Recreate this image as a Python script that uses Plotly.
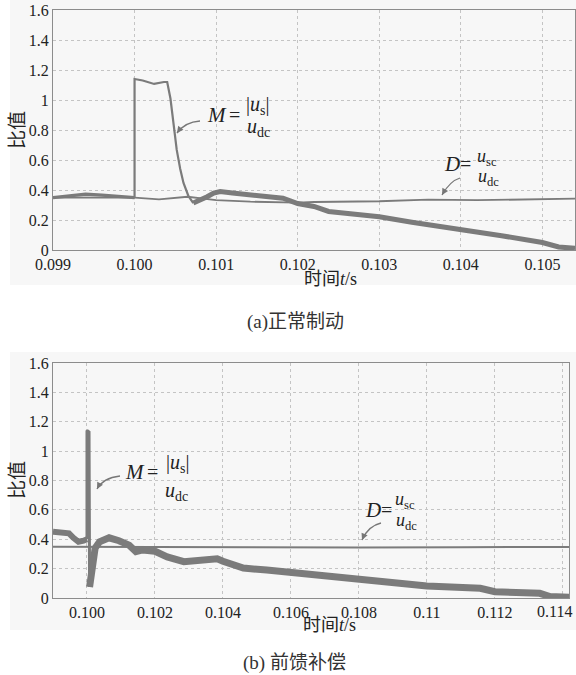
import plotly.graph_objects as go

# ---------------- data: (a) normal braking ----------------
tA_D = [0.0990, 0.0995, 0.1000, 0.1003, 0.10065, 0.1010, 0.10142, 0.1020, 0.1022, 0.1030, 0.1036, 0.1042, 0.1054]
DA = [0.350, 0.352, 0.349, 0.338, 0.355, 0.333, 0.322, 0.316, 0.320, 0.325, 0.336, 0.332, 0.342]

tA_pre = [0.0990, 0.0992, 0.0994, 0.0996, 0.0998, 0.1000]
MA_pre = [0.349, 0.362, 0.372, 0.366, 0.356, 0.349]

tA_jump = [0.1000, 0.1000, 0.1001, 0.10024, 0.10036, 0.10040, 0.10044, 0.10048, 0.100517, 0.10056, 0.10060, 0.10066, 0.10072]
MA_jump = [0.349, 1.14, 1.13, 1.107, 1.12, 1.12, 1.01, 0.82, 0.667, 0.54, 0.447, 0.36, 0.313]

tA_post = [0.10072, 0.10080, 0.10089, 0.10097, 0.10105, 0.10120, 0.10142, 0.10160, 0.10182, 0.1020,
           0.1022, 0.10238, 0.1026, 0.1028, 0.1030, 0.1034, 0.1036, 0.1038, 0.1040, 0.1045, 0.1050,
           0.1052, 0.1054]
MA_post = [0.313, 0.33, 0.355, 0.38, 0.39, 0.38, 0.367, 0.357, 0.345, 0.31,
           0.29, 0.257, 0.245, 0.235, 0.222, 0.185, 0.17, 0.15, 0.133, 0.095, 0.05,
           0.02, 0.011]

# ---------------- data: (b) feed-forward compensation ----------------
tB_D = [0.0990, 0.1020, 0.1050, 0.1080, 0.1110, 0.11418]
DB = [0.349, 0.346, 0.344, 0.344, 0.346, 0.347]

tB_pre = [0.0990, 0.0993, 0.09947, 0.0996, 0.09975, 0.0999, 0.1000]
MB_pre = [0.451, 0.445, 0.44, 0.41, 0.383, 0.39, 0.40]

tB_spike = [0.1000, 0.1000, 0.10006, 0.10007, 0.100076]
MB_spike = [0.40, 1.14, 1.13, 0.50, 0.075]

tB_post = [0.100076, 0.10015, 0.10024, 0.10037, 0.10065, 0.10094, 0.10124, 0.10144, 0.10164, 0.1020,
           0.10236, 0.10285, 0.10334, 0.10383, 0.1040, 0.1046, 0.10529, 0.1060, 0.10666, 0.1080,
           0.10863, 0.1100, 0.11157, 0.1120, 0.11332, 0.11362, 0.11418]
MB_post = [0.075, 0.213, 0.34, 0.383, 0.41, 0.39, 0.36, 0.315, 0.327, 0.318,
           0.28, 0.247, 0.26, 0.267, 0.25, 0.204, 0.19, 0.175, 0.158, 0.127,
           0.113, 0.082, 0.066, 0.043, 0.032, 0.01, 0.005]

# ---------------- ticks ----------------
yticks = [0, 0.2, 0.4, 0.6, 0.8, 1.0, 1.2, 1.4, 1.6]
yticktext = ["0", "0.2", "0.4", "0.6", "0.8", "1", "1.2", "1.4", "1.6"]
xA_ticks = [0.099, 0.100, 0.101, 0.102, 0.103, 0.104, 0.105]
xA_text = ["0.099", "0.100", "0.101", "0.102", "0.103", "0.104", "0.105"]
xB_ticks = [0.100, 0.102, 0.104, 0.106, 0.108, 0.110, 0.112, 0.114]
xB_text = ["0.100", "0.102", "0.104", "0.106", "0.108", "0.11", "0.112", "0.114"]

W, H = 576, 675
LINE = "#7b7b7b"
SERIF = "Liberation Serif, Times New Roman, DejaVu Serif, serif"
CJK = "Liberation Serif, Times New Roman, Noto Sans CJK SC, serif"


def P(px, py):
    """window pixel -> paper fraction"""
    return px / W, 1 - py / H


def dom_x(a, b):
    return [a / W, min(1.0, b / W)]


def dom_y(top, bottom):
    return [1 - bottom / H, 1 - top / H]


fig = go.Figure()


def add(t, v, xa, ya, w):
    fig.add_trace(go.Scatter(x=t, y=v, mode="lines", xaxis=xa, yaxis=ya,
                             line=dict(color=LINE, width=w), showlegend=False,
                             hoverinfo="skip"))


# (a)
add(tA_D, DA, "x", "y", 1.8)
add(tA_pre, MA_pre, "x", "y", 3.2)
add(tA_jump, MA_jump, "x", "y", 2.2)
add(tA_post, MA_post, "x", "y", 5)
# (b)
add(tB_D, DB, "x2", "y2", 2)
add(tB_pre, MB_pre, "x2", "y2", 6)
add(tB_spike, MB_spike, "x2", "y2", 3)
add(tB_post, MB_post, "x2", "y2", 7)

TICKFONT = dict(family=SERIF, size=16, color="#222")
axis_common = dict(showline=True, mirror=True, linecolor="#8c8c8c", linewidth=1,
                   showgrid=True, gridcolor="#c4c4c4", griddash="dot", gridwidth=1,
                   zeroline=False, ticks="", tickfont=TICKFONT)

# the last label of (b) sits at the window edge; it is drawn right-aligned separately
xB_label = xB_text[:-1] + [""]

fig.update_layout(
    width=W, height=H, template="none",
    margin=dict(l=0, r=0, t=0, b=0),
    paper_bgcolor="white", plot_bgcolor="white",
    xaxis=dict(domain=dom_x(53, 575), range=[0.099, 0.1054], tickvals=xA_ticks,
               ticktext=xA_text, anchor="y", **axis_common),
    yaxis=dict(domain=dom_y(10, 250), range=[0, 1.6], tickvals=yticks,
               ticktext=yticktext, anchor="x", **axis_common),
    xaxis2=dict(domain=dom_x(53, 569), range=[0.099, 0.11418], tickvals=xB_ticks,
                ticktext=xB_label, anchor="y2", **axis_common),
    yaxis2=dict(domain=dom_y(363, 598), range=[0, 1.6], tickvals=yticks,
                ticktext=yticktext, anchor="x2", **axis_common),
)

shapes = []
# light panel backgrounds
for (y0, y1) in [(0, 285), (352, 630)]:
    x0p, y0p = P(10, y1)
    x1p, y1p = P(576, y0)
    shapes.append(dict(type="rect", xref="paper", yref="paper", layer="below",
                       x0=x0p, x1=min(1.0, x1p), y0=y0p, y1=y1p,
                       fillcolor="#f7f7f7", line=dict(width=0)))

annotations = []


def txt(px, py, s, size=20, fam=SERIF, color="#222", angle=0, xanchor="center"):
    x, y = P(px, py)
    annotations.append(dict(x=x, y=y, xref="paper", yref="paper", text=s, showarrow=False,
                            font=dict(family=fam, size=size, color=color), textangle=angle,
                            xanchor=xanchor, yanchor="middle"))


def curved_arrow(start, ctrl, tip):
    sx, sy = P(*start)
    cx, cy = P(*ctrl)
    tx, ty = P(*tip)
    shapes.append(dict(type="path", xref="paper", yref="paper",
                       path=f"M {sx},{sy} Q {cx},{cy} {tx},{ty}",
                       line=dict(color="#777", width=1.3)))
    dx, dy = ctrl[0] - tip[0], ctrl[1] - tip[1]
    n = (dx * dx + dy * dy) ** 0.5
    annotations.append(dict(x=tx, y=ty, xref="paper", yref="paper", text="", showarrow=True,
                            ax=dx / n * 7, ay=dy / n * 7, arrowhead=2, arrowsize=1,
                            arrowwidth=1.3, arrowcolor="#777", standoff=0))


# last tick label of (b), kept inside the window
txt(574, 611, xB_text[-1], size=16, xanchor="right")

# y titles
txt(17, 130, "比值", size=19, fam=CJK, angle=-90)
txt(17, 480, "比值", size=19, fam=CJK, angle=-90)
# x titles
txt(330, 279, "时间<i>t</i>/s", size=18, fam=CJK)
txt(329, 625, "时间<i>t</i>/s", size=18, fam=CJK)
# captions
txt(295, 322, "(a)正常制动", size=19, fam=CJK, color="#333")
txt(294, 663, "(b) 前馈补偿", size=19, fam=CJK, color="#333")

# (a) M label
txt(217, 115, "<i>M</i>", size=21)
txt(234, 115, "=", size=20)
txt(257, 105, "|<i>u</i><sub>s</sub>|", size=20)
txt(258, 128, "<i>u</i><sub>dc</sub>", size=20)
curved_arrow((200, 121), (185, 122), (177, 133))

# (a) D label
txt(452, 164, "<i>D</i>", size=21)
txt(465, 164, "=", size=20)
txt(487, 157, "<i>u</i><sub>sc</sub>", size=18)
txt(488, 177, "<i>u</i><sub>dc</sub>", size=18)
curved_arrow((460, 178), (450, 181), (442, 195))

# (b) M label
txt(135, 472, "<i>M</i>", size=21)
txt(152, 472, "=", size=20)
txt(177, 463, "|<i>u</i><sub>s</sub>|", size=20)
txt(176, 491, "<i>u</i><sub>dc</sub>", size=20)
curved_arrow((120, 476), (103, 478), (97, 489))

# (b) D label
txt(373, 510, "<i>D</i>", size=21)
txt(386, 510, "=", size=20)
txt(405, 500, "<i>u</i><sub>sc</sub>", size=18)
txt(406, 521, "<i>u</i><sub>dc</sub>", size=18)
curved_arrow((381, 523), (368, 526), (362, 540))

fig.update_layout(shapes=shapes, annotations=annotations)
# remove the page's default body margin so the figure sits at the window's top-left corner
fig.write_html("out.html", config={"displayModeBar": False},
               post_script="document.body.style.margin='0px';")
